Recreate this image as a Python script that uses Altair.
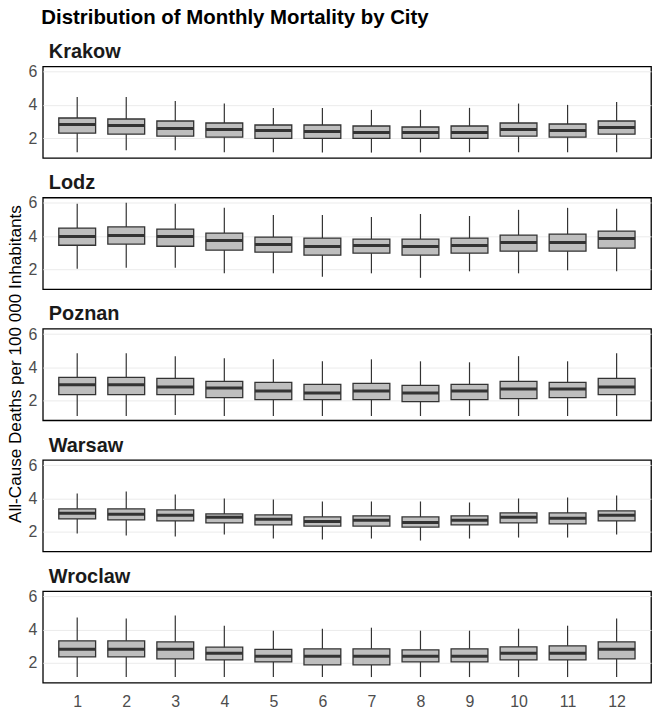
import altair as alt
import pandas as pd

cities = ["Krakow", "Lodz", "Poznan", "Warsaw", "Wroclaw"]
months = list(range(1, 13))

# Box statistics per city (lower whisker, Q1, median, Q3, upper whisker)
krakow_lo = [1.15, 1.27, 1.27, 1.15, 1.15, 1.13, 1.13, 1.14, 1.15, 1.15, 1.15, 1.15]
krakow_q1 = [2.30, 2.24, 2.12, 2.06, 1.98, 1.98, 1.98, 1.98, 1.98, 2.12, 2.06, 2.24]
krakow_med = [2.82, 2.76, 2.58, 2.52, 2.46, 2.40, 2.34, 2.34, 2.34, 2.52, 2.46, 2.64]
krakow_q3 = [3.21, 3.15, 3.03, 2.91, 2.79, 2.79, 2.73, 2.67, 2.73, 2.91, 2.85, 3.03]
krakow_hi = [4.48, 4.48, 4.24, 4.08, 3.82, 3.82, 3.70, 3.70, 3.82, 4.08, 4.00, 4.18]

lodz_lo = [2.04, 2.10, 2.10, 1.76, 1.76, 1.55, 1.76, 1.49, 1.88, 1.76, 1.94, 1.88]
lodz_q1 = [3.45, 3.52, 3.39, 3.15, 3.03, 2.85, 2.97, 2.85, 2.97, 3.09, 3.09, 3.27]
lodz_med = [3.98, 4.04, 3.98, 3.73, 3.49, 3.37, 3.43, 3.37, 3.43, 3.61, 3.61, 3.85]
lodz_q3 = [4.48, 4.55, 4.42, 4.18, 3.94, 3.88, 3.82, 3.82, 3.88, 4.06, 4.12, 4.30]
lodz_hi = [5.94, 6.00, 5.94, 5.70, 5.27, 5.27, 5.15, 5.33, 5.21, 5.58, 5.70, 5.64]

poznan_lo = [1.07, 1.07, 1.13, 1.07, 1.07, 1.07, 1.07, 1.07, 1.07, 1.07, 1.07, 1.07]
poznan_q1 = [2.36, 2.36, 2.36, 2.18, 2.06, 2.06, 2.06, 1.94, 2.06, 2.12, 2.18, 2.36]
poznan_med = [2.95, 2.95, 2.82, 2.76, 2.58, 2.46, 2.58, 2.46, 2.58, 2.70, 2.70, 2.82]
poznan_q3 = [3.39, 3.39, 3.33, 3.15, 3.09, 2.97, 3.03, 2.91, 2.97, 3.15, 3.09, 3.33]
poznan_hi = [4.85, 4.85, 4.67, 4.55, 4.48, 4.36, 4.48, 4.36, 4.30, 4.67, 4.36, 4.85]

warsaw_lo = [1.90, 1.78, 1.72, 1.84, 1.59, 1.53, 1.59, 1.47, 1.59, 1.65, 1.65, 1.84]
warsaw_q1 = [2.77, 2.71, 2.65, 2.53, 2.41, 2.34, 2.34, 2.28, 2.41, 2.53, 2.47, 2.65]
warsaw_med = [3.11, 3.05, 2.99, 2.87, 2.75, 2.62, 2.69, 2.56, 2.69, 2.87, 2.81, 2.99]
warsaw_q3 = [3.38, 3.38, 3.31, 3.07, 3.01, 2.89, 2.95, 2.89, 2.95, 3.13, 3.13, 3.25]
warsaw_hi = [4.30, 4.42, 4.24, 4.00, 3.94, 3.82, 3.82, 3.82, 3.76, 4.00, 4.06, 4.18]

wroclaw_lo = [1.15, 1.15, 1.15, 1.15, 1.15, 1.15, 1.15, 1.15, 1.15, 1.15, 1.15, 1.15]
wroclaw_q1 = [2.36, 2.36, 2.24, 2.18, 2.06, 1.88, 1.88, 2.06, 2.06, 2.18, 2.18, 2.24]
wroclaw_med = [2.82, 2.82, 2.82, 2.58, 2.40, 2.40, 2.40, 2.40, 2.40, 2.58, 2.58, 2.82]
wroclaw_q3 = [3.33, 3.33, 3.27, 2.95, 2.82, 2.85, 2.85, 2.79, 2.85, 2.97, 3.03, 3.27]
wroclaw_hi = [4.73, 4.67, 4.85, 4.24, 3.94, 4.06, 4.12, 3.94, 3.94, 4.06, 4.24, 4.67]

stats = {
    "Krakow": (krakow_lo, krakow_q1, krakow_med, krakow_q3, krakow_hi),
    "Lodz": (lodz_lo, lodz_q1, lodz_med, lodz_q3, lodz_hi),
    "Poznan": (poznan_lo, poznan_q1, poznan_med, poznan_q3, poznan_hi),
    "Warsaw": (warsaw_lo, warsaw_q1, warsaw_med, warsaw_q3, warsaw_hi),
    "Wroclaw": (wroclaw_lo, wroclaw_q1, wroclaw_med, wroclaw_q3, wroclaw_hi),
}

FONT = "Liberation Sans"
W, H = 611, 92
XDOM = [0.4, 12.6]
YDOM = [0.81, 6.32]
BOXW = 37
TICKFS = 16
YTITLE = "All-Cause Deaths per 100 000 Inhabitants"


def panel(city, show_x, show_ytitle):
    lo, q1, med, q3, hi = stats[city]
    df = pd.DataFrame({"month": months, "lo": lo, "q1": q1, "med": med, "q3": q3, "hi": hi})
    if show_x:
        xaxis = alt.Axis(values=months, grid=False, ticks=False, domain=False,
                         labelFontSize=TICKFS, labelColor="#4d4d4d", labelPadding=11,
                         labelFont=FONT)
    else:
        xaxis = None
    ykw = dict(values=[2, 4, 6], grid=True, gridColor="#ebebeb", ticks=False,
               domain=False, labelFontSize=TICKFS, labelColor="#4d4d4d",
               labelPadding=6, labelFont=FONT)
    if show_ytitle:
        yaxis = alt.Axis(titleFontSize=17.2, titleFont=FONT, titleFontWeight="normal",
                         titleColor="#000000", titlePadding=4, titleY=35, **ykw)
        ytitle = YTITLE
    else:
        yaxis = alt.Axis(**ykw)
        ytitle = None
    x = alt.X("month:Q", scale=alt.Scale(domain=XDOM, nice=False, zero=False), axis=xaxis, title=None)
    y = alt.Y("lo:Q", scale=alt.Scale(domain=YDOM, nice=False, zero=False), axis=yaxis, title=ytitle)

    base = alt.Chart(df)
    whisk = base.mark_rule(color="#333333", strokeWidth=1.2).encode(x=x, y=y, y2="hi:Q")
    box = base.mark_bar(size=BOXW, color="#bebebe", stroke="#333333", strokeWidth=1.3).encode(
        x="month:Q", y="q1:Q", y2="q3:Q")
    mid = base.mark_tick(orient="horizontal", size=BOXW, thickness=3, color="#333333", opacity=1).encode(
        x="month:Q", y="med:Q")
    label = alt.Chart(pd.DataFrame({"city": [city]})).mark_text(
        align="left", baseline="alphabetic", fontSize=20, fontWeight="bold",
        font=FONT, color="#1a1a1a").encode(
        text="city:N", x=alt.value(6), y=alt.value(-8.4))
    return alt.layer(whisk, box, mid, label).properties(width=W, height=H)


panels = [panel(c, c == "Wroclaw", c == "Poznan") for c in cities]

chart = alt.vconcat(*panels, spacing=39.8, bounds="flush").properties(
    title=alt.TitleParams("Distribution of Monthly Mortality by City", anchor="start",
                          fontSize=20.5, fontWeight="bold", font=FONT, color="#000000",
                          offset=13, dx=36),
    padding={"left": 5, "top": 6, "right": 4, "bottom": 2},
).configure_view(stroke="#000000", strokeWidth=1.3)

chart.save("out.html", embed_options={"renderer": "svg", "actions": False})
